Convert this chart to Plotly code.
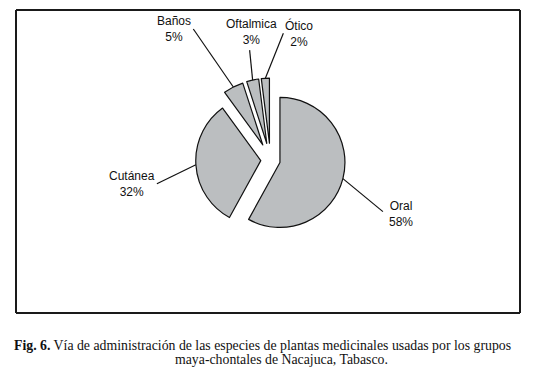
import math
import plotly.graph_objects as go

# ---- data ----
labels = ["Oral", "Cutánea", "Baños", "Oftalmica", "Ótico"]
values = [58, 32, 5, 3, 2]
pct_text = ["58%", "32%", "5%", "3%", "2%"]
caption_line1 = "<b>Fig. 6.</b> Vía de administración de las especies de plantas medicinales usadas por los grupos"
caption_line2 = "maya-chontales de Nacajuca, Tabasco."

# ---- styling / geometry (page pixel coordinates) ----
W, H = 550, 376


def px(x):
    return x / W


def py(y):
    return 1 - y / H


CX, CY = 270.5, 160.0      # pie centre (page pixels)
R = 65.0                   # radius (pixels)
pulls = [0.15, 0.15, 0.26, 0.26, 0.26]
max_pull = max(pulls)
half = R * (1 + max_pull)
fill = "#bbbec0"

# leader line end offsets and label centre offsets from slice edge (pixels)
leader_off = [(40, 33), (-39, 19), (-40, -58), (-3, -30), (18, -45)]
text_off = [(58, 35), (-64, 19), (-59, -58), (-1, -48), (34, -45)]

fig = go.Figure(go.Pie(
    labels=labels, values=values, sort=False, direction="clockwise",
    rotation=0, pull=pulls, textinfo="none", hoverinfo="label+percent",
    marker=dict(colors=[fill] * len(values), line=dict(color="#111111", width=1.2)),
    domain=dict(x=[px(CX - half), px(CX + half)],
                y=[py(CY + half), py(CY - half)]),
    showlegend=False,
))

total = sum(values)
cum = 0.0
shapes = []
annotations = []
for i, v in enumerate(values):
    mid = (cum + v / 2) / total * 2 * math.pi
    cum += v
    dx, dy = math.sin(mid), -math.cos(mid)
    ox = CX + pulls[i] * R * dx
    oy = CY + pulls[i] * R * dy
    ex, ey = ox + R * dx, oy + R * dy
    lx, ly = ex + leader_off[i][0], ey + leader_off[i][1]
    tx, ty = ex + text_off[i][0], ey + text_off[i][1]
    shapes.append(dict(type="line", xref="paper", yref="paper",
                       x0=px(ex), y0=py(ey), x1=px(lx), y1=py(ly),
                       line=dict(color="#111111", width=1.2)))
    annotations.append(dict(x=px(tx), y=py(ty), xref="paper", yref="paper",
                            text=labels[i] + "<br>" + pct_text[i], showarrow=False,
                            xanchor="center", yanchor="middle", align="center",
                            font=dict(family="Liberation Sans, Arial", size=12, color="#111111")))

# frame (four sides)
FL, FR, FT, FB = 16, 520, 10, 313
frame_line = dict(color="#1a1a1a", width=2)
for (x0, y0, x1, y1) in [(FL, FT, FR, FT), (FR, FT, FR, FB), (FR, FB, FL, FB), (FL, FB, FL, FT)]:
    shapes.append(dict(type="line", xref="paper", yref="paper",
                       x0=px(x0), y0=py(y0), x1=px(x1), y1=py(y1), line=frame_line))

annotations.append(dict(x=px(262), y=py(345), xref="paper", yref="paper",
                        text=caption_line1, showarrow=False, xanchor="center", yanchor="middle",
                        font=dict(family="Liberation Serif, Times New Roman", size=13.8, color="#111111")))
annotations.append(dict(x=px(281), y=py(359.5), xref="paper", yref="paper",
                        text=caption_line2, showarrow=False, xanchor="center", yanchor="middle",
                        font=dict(family="Liberation Serif, Times New Roman", size=13.8, color="#111111")))

fig.update_layout(width=W, height=H, margin=dict(l=0, r=0, t=0, b=0),
                  paper_bgcolor="white", plot_bgcolor="white",
                  shapes=shapes, annotations=annotations)

fig.write_html("out.html", config={"displayModeBar": False},
               post_script="document.body.style.margin='0';document.body.style.overflow='hidden';")
